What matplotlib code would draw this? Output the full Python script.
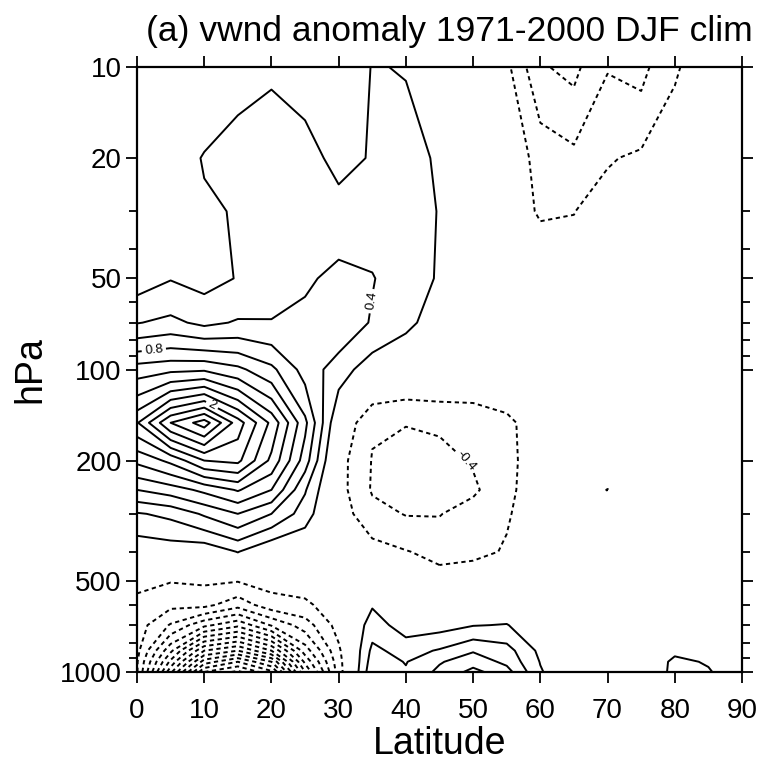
import numpy as np
import matplotlib
matplotlib.use('Agg')
import matplotlib.pyplot as plt
from matplotlib.ticker import FixedLocator, NullFormatter, FuncFormatter

plt.rcParams['font.family'] = ['Liberation Sans', 'DejaVu Sans']

# latitude (deg N) and pressure levels (hPa)
lat = [0, 5, 10, 15, 20, 25, 30, 35, 40, 45, 50, 55, 60, 65, 70, 75, 80, 85, 90]
lev = [1000, 925, 850, 700, 600, 500, 400, 300, 250, 200, 150, 100, 70, 50, 30, 20, 10]

# vwnd anomaly (m/s), one row per pressure level, lat 0..90
v1000 = [-0.38, -1.75, -3.00, -3.25, -2.85, -1.40, -0.30, 0.55, 0.42, 0.65, 0.86, 0.68, 0.22, 0.00, 0.00, 0.00, 0.26, 0.22, 0.05]
v925 = [-0.38, -1.45, -2.50, -2.80, -2.40, -1.15, -0.28, 0.50, 0.39, 0.58, 0.72, 0.55, 0.19, 0.00, 0.00, 0.00, 0.25, 0.18, 0.04]
v850 = [-0.34, -1.15, -2.00, -2.20, -1.80, -0.90, -0.24, 0.45, 0.32, 0.42, 0.58, 0.48, 0.15, 0.00, 0.00, 0.00, 0.15, 0.10, 0.02]
v700 = [-0.30, -0.62, -0.95, -1.15, -0.78, -0.50, -0.12, 0.30, 0.10, 0.12, 0.19, 0.21, 0.05, 0.00, 0.00, 0.00, 0.00, 0.00, 0.00]
v600 = [-0.25, -0.35, -0.34, -0.52, -0.28, -0.24, -0.08, 0.18, 0.02, 0.00, 0.02, 0.05, 0.00, 0.00, 0.00, 0.00, 0.00, 0.00, 0.00]
v500 = [-0.15, -0.19, -0.17, -0.19, -0.13, -0.10, -0.05, -0.05, -0.15, -0.12, -0.05, -0.02, 0.00, 0.00, 0.00, 0.00, 0.00, 0.00, 0.00]
v400 = [0.05, 0.08, 0.05, 0.21, 0.00, 0.00, -0.05, -0.12, -0.19, -0.26, -0.26, -0.18, -0.08, -0.03, -0.02, 0.00, 0.00, 0.00, 0.00]
v300 = [0.38, 0.45, 0.63, 0.80, 0.60, 0.30, -0.10, -0.33, -0.41, -0.41, -0.30, -0.22, -0.08, -0.05, -0.06, -0.03, 0.00, 0.00, 0.00]
v250 = [0.80, 0.90, 1.05, 1.22, 1.00, 0.42, -0.12, -0.42, -0.50, -0.50, -0.44, -0.24, -0.10, -0.08, -0.205, -0.08, -0.03, 0.00, 0.00]
v200 = [1.25, 1.45, 1.80, 1.85, 1.35, 0.70, -0.12, -0.41, -0.50, -0.48, -0.38, -0.25, -0.10, -0.05, -0.05, -0.02, 0.00, 0.00, 0.00]
v150 = [1.78, 2.40, 2.70, 2.10, 1.55, 0.85, 0.00, -0.38, -0.39, -0.36, -0.33, -0.24, -0.10, -0.05, -0.03, 0.00, 0.00, 0.00, 0.00]
v100 = [1.10, 1.15, 1.17, 1.05, 0.85, 0.52, 0.30, 0.08, 0.00, 0.00, -0.02, -0.05, -0.02, -0.03, -0.02, 0.00, 0.00, 0.00, 0.00]
v70 = [0.39, 0.45, 0.35, 0.42, 0.41, 0.45, 0.55, 0.38, 0.25, 0.10, 0.00, -0.05, -0.03, -0.05, -0.03, -0.02, 0.00, 0.00, 0.00]
v50 = [0.10, 0.19, 0.13, 0.21, 0.30, 0.37, 0.45, 0.41, 0.30, 0.18, 0.05, -0.05, -0.05, -0.08, -0.05, -0.03, 0.00, 0.00, 0.00]
v30 = [0.10, 0.12, 0.18, 0.21, 0.32, 0.33, 0.30, 0.32, 0.30, 0.19, 0.02, -0.10, -0.22, -0.205, -0.10, -0.06, -0.03, 0.00, 0.00]
v20 = [0.10, 0.12, 0.21, 0.30, 0.33, 0.30, 0.12, 0.22, 0.28, 0.17, 0.00, -0.12, -0.24, -0.34, -0.22, -0.16, -0.09, -0.05, -0.02]
v10 = [0.10, 0.10, 0.10, 0.12, 0.17, 0.10, 0.02, 0.21, 0.19, 0.05, -0.05, -0.15, -0.58, -0.65, -0.41, -0.46, -0.22, -0.10, -0.05]

vwnd = np.array([v1000, v925, v850, v700, v600, v500, v400, v300, v250,
                 v200, v150, v100, v70, v50, v30, v20, v10])

# contour levels that carry a label, and where the label sits (lat, hPa)
label_at = {0.4: (36.5, 60), 0.8: (2.5, 86), 2.0: (11, 133), -0.4: (49, 200)}

fig = plt.figure(figsize=(7.62, 7.65), dpi=100)
ax = fig.add_axes([137 / 762, 93 / 765, 605 / 762, 605 / 765])
ax.set_yscale('log')
ax.set_ylim(1000, 10)
ax.set_xlim(0, 90)

dash = (0, (2.2, 1.8))
lw = 1.4


def style(l):
    return 'solid' if l > 0 else dash


# contour every 0.2, zero line left out, negatives dashed
levels = [k / 10 for k in range(-34, 32, 2) if k != 0]
plain = [l for l in levels if l not in label_at]
ax.contour(lat, lev, vwnd, levels=plain, colors='k', linewidths=lw,
           linestyles=[style(l) for l in plain])

for lv, pos in label_at.items():
    cl = ax.contour(lat, lev, vwnd, levels=[lv], colors='k', linewidths=lw,
                    linestyles=[style(lv)])
    ax.clabel(cl, manual=[pos], fmt=lambda x: '%g' % x,
              fontsize=9.5, inline=True, inline_spacing=3)

ax.set_xticks(range(0, 91, 10))
ax.yaxis.set_major_locator(FixedLocator([10, 20, 50, 100, 200, 500, 1000]))
ax.yaxis.set_minor_locator(FixedLocator([30, 40, 60, 70, 80, 90, 300, 400, 600, 700, 800, 900]))
ax.yaxis.set_major_formatter(FuncFormatter(lambda v, p: '%d' % v))
ax.yaxis.set_minor_formatter(NullFormatter())
ax.tick_params(which='both', direction='out', top=True, right=True, width=1.3)
ax.tick_params(which='major', length=8, labelsize=20)
ax.tick_params(which='minor', length=6)
ax.tick_params(axis='x', pad=10.5)
ax.tick_params(axis='y', pad=3)
for s in ax.spines.values():
    s.set_linewidth(1.6)

ax.set_xlabel('Latitude', fontsize=27, labelpad=2)
ax.set_ylabel('hPa', fontsize=27, labelpad=8)
fig.text(449.5 / 762, 1 - 32 / 765, '(a) vwnd anomaly 1971-2000 DJF clim',
         ha='center', va='center', fontsize=25.5)

fig.savefig('out.png', dpi=100)
